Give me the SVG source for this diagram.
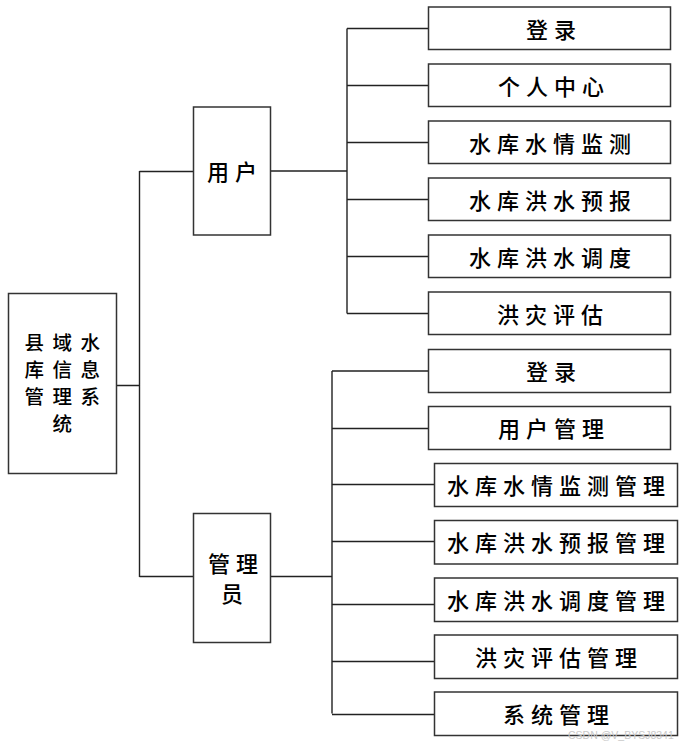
<svg xmlns="http://www.w3.org/2000/svg" width="690" height="744" viewBox="0 0 690 744">
<style>
.box{fill:#fff;stroke:#333;stroke-width:1.5}
.ln{fill:none;stroke:#222;stroke-width:1.4}
.t{font-family:"Noto Sans CJK SC","Noto Sans",sans-serif;font-size:22px;font-weight:500;fill:#000;text-anchor:middle;dominant-baseline:central;letter-spacing:6px}
.r{font-size:19.5px;letter-spacing:8.5px}
.wm{font-family:"Liberation Sans",sans-serif;font-size:10.5px;fill:#c8c8c8}
</style>
<rect width="690" height="744" fill="#fff"/>
<g id="connectors" class="ln">
<path d="M116.5 385.5H139.5M139.5 171V577M139.5 171.5H193.5M139.5 576.5H193.5"/>
<path d="M270.5 171H347M347 28.5V313.5M347 28.5H428.5M347 85.5H428.5M347 142.5H428.5M347 199.5H428.5M347 256.5H428.5M347 313.5H428.5"/>
<path d="M270.5 576.5H332M332 371V713.5M332 371H428.5M332 428.5H428.5M332 484.5H434.5M332 541.5H434.5M332 604.5H434.5M332 661.5H434.5M332 714.5H434.5"/>
</g>
<g id="root"><rect class="box" x="8.5" y="293.5" width="108" height="180"/>
<text class="t r" x="66.5" y="341">县域水</text><text class="t r" x="66.5" y="368">库信息</text><text class="t r" x="66.5" y="395">管理系</text><text class="t r" x="66.5" y="422">统</text></g>
<g id="user"><rect class="box" x="193.5" y="107" width="77" height="128"/><text class="t" x="235" y="170">用户</text></g>
<g id="admin"><rect class="box" x="193.5" y="513.5" width="77" height="129"/><text class="t" x="236" y="562">管理</text><text class="t" x="235" y="592">员</text></g>
<g id="u1"><rect class="box" x="428.5" y="7" width="242" height="42.5"/><text class="t" x="554" y="27.5">登录</text></g>
<g id="u2"><rect class="box" x="428.5" y="64" width="242" height="42.5"/><text class="t" x="554" y="84.5">个人中心</text></g>
<g id="u3"><rect class="box" x="428.5" y="121" width="242" height="42.5"/><text class="t" x="553" y="141.5">水库水情监测</text></g>
<g id="u4"><rect class="box" x="428.5" y="178" width="242" height="42.5"/><text class="t" x="553" y="198.5">水库洪水预报</text></g>
<g id="u5"><rect class="box" x="428.5" y="235" width="242" height="42.5"/><text class="t" x="553" y="255.5">水库洪水调度</text></g>
<g id="u6"><rect class="box" x="428.5" y="292" width="242" height="42.5"/><text class="t" x="553" y="312.5">洪灾评估</text></g>
<g id="a1"><rect class="box" x="428.5" y="349.5" width="242" height="43"/><text class="t" x="554" y="370">登录</text></g>
<g id="a2"><rect class="box" x="428.5" y="406.5" width="242" height="43"/><text class="t" x="554" y="427">用户管理</text></g>
<g id="a3"><rect class="box" x="434.5" y="463.5" width="243" height="43"/><text class="t" x="559" y="484">水库水情监测管理</text></g>
<g id="a4"><rect class="box" x="434.5" y="520.5" width="243" height="43.5"/><text class="t" x="559" y="541">水库洪水预报管理</text></g>
<g id="a5"><rect class="box" x="434.5" y="578" width="243" height="43.5"/><text class="t" x="559" y="599">水库洪水调度管理</text></g>
<g id="a6"><rect class="box" x="434.5" y="635" width="243" height="43.5"/><text class="t" x="559" y="656">洪灾评估管理</text></g>
<g id="a7"><rect class="box" x="434.5" y="692" width="243" height="43.5"/><text class="t" x="559" y="713">系统管理</text></g>
<text class="wm" x="568" y="738.5">CSDN @V_BYSJ8341</text>
</svg>
